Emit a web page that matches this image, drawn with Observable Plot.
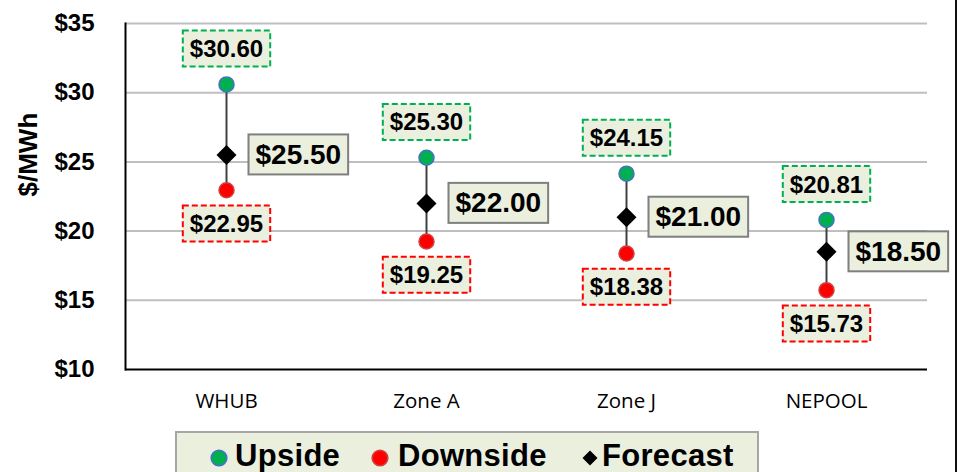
<!DOCTYPE html>
<html>
<head>
<meta charset="utf-8">
<script src="https://cdn.jsdelivr.net/npm/d3@7"></script>
<script src="https://cdn.jsdelivr.net/npm/@observablehq/plot@0.6"></script>
<style>
  html, body { margin: 0; padding: 0; background: #fff; overflow: hidden; }
  #wrap { position: relative; width: 959px; height: 472px; font-family: "Liberation Sans", Arial, sans-serif; }
  #border { position: absolute; left: 955px; top: 0; width: 2px; height: 472px; background: #111; }
  #legend { position: absolute; left: 175px; top: 431px; width: 584px; height: 50px; background: #EBEFDE;
            border: 2px solid #A6A6A6; box-sizing: border-box;
            font-weight: bold; font-size: 31px; letter-spacing: 0.3px; color: #000; }
  .sw { position: absolute; top: 16px; }
  .tx { position: absolute; top: 5px; line-height: 36px; white-space: nowrap; }
</style>
</head>
<body>
<div id="wrap">
  <div id="chart"></div>
  <div id="border"></div>
  <div id="legend">
    <svg class="sw" style="left:33px" width="18" height="18"><circle cx="9" cy="9" r="7.8" fill="#00B050" stroke="#4472C4" stroke-width="1.6"/></svg>
    <span class="tx" style="left:58px">Upside</span>
    <svg class="sw" style="left:194px" width="18" height="18"><circle cx="9" cy="9" r="7.8" fill="#FF0000" stroke="#D04040" stroke-width="1.6"/></svg>
    <span class="tx" style="left:221px">Downside</span>
    <svg class="sw" style="left:404px" width="18" height="18"><path d="M9 1.5 L16.5 9 L9 16.5 L1.5 9 Z" fill="#000"/></svg>
    <span class="tx" style="left:425px">Forecast</span>
  </div>
</div>
<script>
const categories = ["WHUB", "Zone A", "Zone J", "NEPOOL"];
const upside = [30.60, 25.30, 24.15, 20.81];
const downside = [22.95, 19.25, 18.38, 15.73];
const forecast = [25.50, 22.00, 21.00, 18.50];
const yTicks = [10, 15, 20, 25, 30, 35];

const data = categories.map((c, i) => ({cat: c, up: upside[i], down: downside[i], fc: forecast[i]}));
const money = v => "$" + v.toFixed(2);
const font = "Liberation Sans, Arial, sans-serif";

const chart = Plot.plot({
  width: 959,
  height: 425,
  marginTop: 23,
  marginBottom: 56,
  marginLeft: 125,
  marginRight: 32,
  style: {color: "#000", background: "transparent", fontFamily: font},
  x: {type: "band", domain: categories, padding: 0, label: null},
  y: {domain: [10, 35], label: null},
  marks: [
    Plot.gridY(yTicks.slice(1), {stroke: "#BFBFBF", strokeOpacity: 1, strokeWidth: 2}),
    Plot.axisY(yTicks, {tickSize: 0, tickPadding: 31, tickFormat: d => "$" + d, fontSize: 24, fontWeight: "bold", label: null}),
    Plot.axisX({tickSize: 0, tickPadding: 24, fontSize: 20.5, fontFamily: "Open Sans, sans-serif", label: null}),
    Plot.text(["$/MWh"], {frameAnchor: "left", rotate: -90, dx: -97, fontSize: 26, fontWeight: "bold", fill: "#000"}),
    Plot.ruleY([10], {stroke: "#000", strokeWidth: 2}),
    Plot.frame({anchor: "left", stroke: "#000", strokeWidth: 2}),
    Plot.ruleX(data, {x: "cat", y1: "down", y2: "up", stroke: "#404040", strokeWidth: 2}),
    Plot.dot(data, {x: "cat", y: "up", r: 7.5, fill: "#00B050", stroke: "#4472C4", strokeWidth: 1.5}),
    Plot.dot(data, {x: "cat", y: "down", r: 7.5, fill: "#FF0000", stroke: "#D04040", strokeWidth: 1.5}),
    Plot.dot(data, {x: "cat", y: "fc", symbol: "diamond2", r: 9, fill: "#000", stroke: "none"}),
    Plot.text(data, {x: "cat", y: "up", text: d => money(d.up), dy: -35, fontSize: 24, fontWeight: "bold", fill: "#000", className: "lbl-up"}),
    Plot.text(data, {x: "cat", y: "down", text: d => money(d.down), dy: 34, fontSize: 24, fontWeight: "bold", fill: "#000", className: "lbl-down"}),
    Plot.text(data, {x: "cat", y: "fc", text: d => money(d.fc), dx: 29, textAnchor: "start", fontSize: 28, fontWeight: "bold", fill: "#000", className: "lbl-fc"})
  ]
});
document.getElementById("chart").appendChild(chart);

function boxes(cls, padX, h, stroke, dash) {
  chart.querySelectorAll("." + cls + " text").forEach(t => {
    const b = t.getBBox();
    const r = document.createElementNS("http://www.w3.org/2000/svg", "rect");
    const cy = b.y + b.height / 2;
    r.setAttribute("x", b.x - padX);
    r.setAttribute("y", cy - h / 2);
    r.setAttribute("width", b.width + 2 * padX);
    r.setAttribute("height", h);
    r.setAttribute("fill", "#EBEFDE");
    r.setAttribute("stroke", stroke);
    r.setAttribute("stroke-width", 2);
    if (dash) r.setAttribute("stroke-dasharray", dash);
    const tr = t.getAttribute("transform");
    if (tr) r.setAttribute("transform", tr);
    t.parentNode.insertBefore(r, t);
  });
}
boxes("lbl-up", 7, 36, "#00B050", "6,3");
boxes("lbl-down", 7, 36, "#FF0000", "6,3");
boxes("lbl-fc", 7, 40, "#7F7F7F", null);
</script>
</body>
</html>
